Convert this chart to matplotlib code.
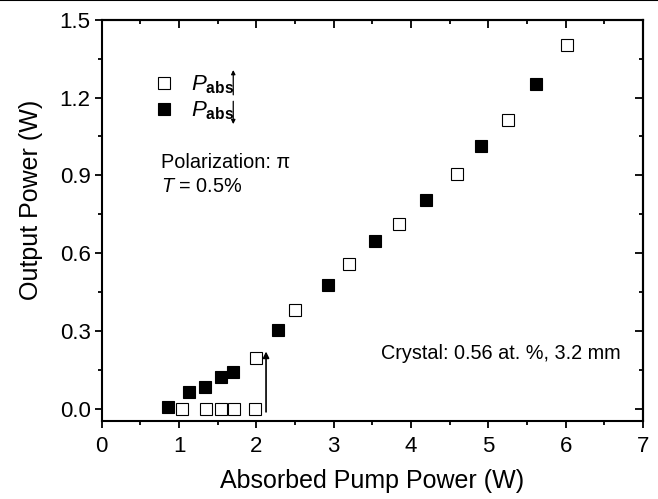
import matplotlib
matplotlib.use("Agg")
import matplotlib.pyplot as plt
from matplotlib.lines import Line2D
from matplotlib.ticker import MultipleLocator

plt.rcParams['font.family'] = ['Liberation Sans', 'DejaVu Sans']
plt.rcParams['mathtext.fontset'] = 'custom'
plt.rcParams['mathtext.rm'] = 'Liberation Sans'
plt.rcParams['mathtext.it'] = 'Liberation Sans:italic'
plt.rcParams['mathtext.bf'] = 'Liberation Sans:bold'

# Increasing absorbed pump power (open squares)
up_x = [1.04, 1.35, 1.54, 1.71, 1.98, 2.0, 2.5, 3.2, 3.85, 4.6, 5.26, 6.02]
up_y = [0.0, 0.0, 0.0, 0.0, 0.0, 0.196, 0.382, 0.556, 0.714, 0.906, 1.113, 1.403]
# Decreasing absorbed pump power (filled squares)
down_x = [0.86, 1.13, 1.34, 1.54, 1.70, 2.28, 2.92, 3.54, 4.20, 4.91, 5.61]
down_y = [0.005, 0.062, 0.082, 0.120, 0.141, 0.305, 0.475, 0.645, 0.805, 1.013, 1.252]

x_ticks = [0, 1, 2, 3, 4, 5, 6, 7]
y_ticks = [0.0, 0.3, 0.6, 0.9, 1.2, 1.5]

fig = plt.figure(figsize=(6.58, 4.99), dpi=100)
ax = fig.add_axes([0.1546, 0.1569, 0.8226, 0.8032])

ax.plot(up_x, up_y, ls='none', marker='s', ms=8.2, mfc='white', mec='black',
        mew=0.8, label=r'$P_{\mathbf{abs}}$')
ax.plot(down_x, down_y, ls='none', marker='s', ms=8.2, mfc='black', mec='black',
        mew=0.8, label=r'$P_{\mathbf{abs}}$')

ax.annotate('', xy=(2.125, 0.22), xytext=(2.125, -0.013),
            arrowprops=dict(arrowstyle='-|>', color='black', lw=1.2,
                            mutation_scale=9, shrinkA=0, shrinkB=0))

ax.set_xlim(0, 7)
ax.set_ylim(-0.047, 1.5)
ax.set_xticks(x_ticks)
ax.set_yticks(y_ticks)
ax.set_xticklabels([str(v) for v in x_ticks])
ax.set_yticklabels([f'{v:.1f}' for v in y_ticks])
ax.xaxis.set_minor_locator(MultipleLocator(0.5))
ax.yaxis.set_minor_locator(MultipleLocator(0.15))

for s in ax.spines.values():
    s.set_linewidth(1.5)

ax.tick_params(which='both', direction='out', top=False, right=False,
               labelsize=16, width=1.3)
ax.tick_params(which='major', length=5)
ax.tick_params(which='minor', length=3)
ax.tick_params(axis='x', pad=6)
ax.tick_params(axis='y', pad=3)

# inward ticks on top and right
sec_x = ax.secondary_xaxis('top')
sec_x.set_xticks(x_ticks)
sec_x.set_xticklabels([])
sec_x.xaxis.set_minor_locator(MultipleLocator(0.5))
sec_x.tick_params(which='both', direction='in', width=1.3)
sec_x.tick_params(which='major', length=6)
sec_x.tick_params(which='minor', length=3)
sec_x.spines['top'].set_linewidth(1.5)
sec_y = ax.secondary_yaxis('right')
sec_y.set_yticks(y_ticks)
sec_y.set_yticklabels([])
sec_y.yaxis.set_minor_locator(MultipleLocator(0.15))
sec_y.tick_params(which='both', direction='in', width=1.3)
sec_y.tick_params(which='major', length=6)
sec_y.tick_params(which='minor', length=3)
sec_y.spines['right'].set_linewidth(1.5)

ax.set_xlabel('Absorbed Pump Power (W)', fontsize=18, labelpad=9)
ax.set_ylabel('Output Power (W)', fontsize=18)
ax.yaxis.set_label_coords(-0.108, 0.551)

leg = ax.legend(loc='upper left', bbox_to_anchor=(0.078, 0.888), frameon=False,
                fontsize=16, handletextpad=0.72, labelspacing=0.15,
                handlelength=1.0, borderaxespad=0)

# direction arrows next to the legend labels
ax.annotate('', xy=(0.243, 0.875), xytext=(0.243, 0.813),
            xycoords='axes fraction', textcoords='axes fraction',
            arrowprops=dict(arrowstyle='-|>', color='black', lw=0.9,
                            mutation_scale=6, shrinkA=0, shrinkB=0))
ax.annotate('', xy=(0.243, 0.740), xytext=(0.243, 0.797),
            xycoords='axes fraction', textcoords='axes fraction',
            arrowprops=dict(arrowstyle='-|>', color='black', lw=0.9,
                            mutation_scale=6, shrinkA=0, shrinkB=0))

ax.text(0.11, 0.643, 'Polarization: \u03c0', transform=ax.transAxes,
        fontsize=14.3, va='center', ha='left')
ax.text(0.11, 0.585, r'$T$ = 0.5%', transform=ax.transAxes,
        fontsize=14.3, va='center', ha='left')
ax.text(0.516, 0.168, 'Crystal: 0.56 at. %, 3.2 mm', transform=ax.transAxes,
        fontsize=14.3, va='center', ha='left')

fig.add_artist(Line2D([0, 1], [0.999, 0.999], color='black', lw=1.5,
                      transform=fig.transFigure))

fig.savefig('out.png', dpi=100)
